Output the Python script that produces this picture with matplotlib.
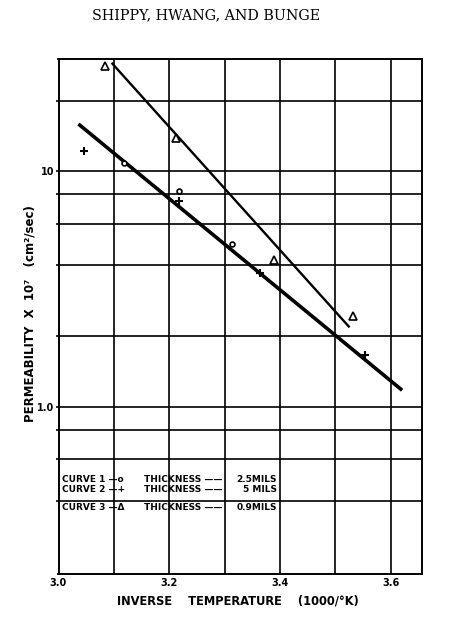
import matplotlib.pyplot as plt

# data (inverse temperature 1000/K, permeability x 1e7)
c1_x = [3.118, 3.217, 3.314]
c1_y = [10.9, 8.3, 4.9]
c2_x = [3.046, 3.217, 3.365, 3.553]
c2_y = [12.2, 7.5, 3.7, 1.66]
c3_x = [3.084, 3.213, 3.390, 3.532]
c3_y = [28.0, 13.9, 4.23, 2.43]

# fitted lines (end points)
fit12_x = [3.036, 3.621]
fit12_y = [15.9, 1.18]
fit3_x = [3.096, 3.526]
fit3_y = [28.9, 2.18]

x_grid = [3.0, 3.1, 3.2, 3.3, 3.4, 3.5, 3.6]
x_labels = ['3.0', '', '3.2', '', '3.4', '', '3.6']
y_grid = [0.4, 0.6, 0.8, 1.0, 2, 4, 6, 8, 10, 20]
y_labels = ['', '', '', '1.0', '', '', '', '', '10', '']

legend_left = ['CURVE 1 \u2014o', 'CURVE 2 \u2014+', 'CURVE 3 \u2014\u0394']
legend_mid = ['THICKNESS \u2014\u2014', 'THICKNESS \u2014\u2014', 'THICKNESS \u2014\u2014']
legend_right = ['2.5MILS', '5 MILS', '0.9MILS']

W, H = 474, 620
fig = plt.figure(figsize=(W / 100, H / 100), dpi=100)
ax = fig.add_axes([58.5 / W, 1 - 574 / H, 363 / W, 515 / H])

ax.set_yscale('log')
ax.set_xlim(3.0, 3.656)
ax.set_ylim(0.196, 30)

# grid
ax.set_xticks(x_grid, labels=x_labels)
ax.set_yticks(y_grid, labels=y_labels)
ax.minorticks_off()
ax.grid(True, color='black', linewidth=1.2)
ax.tick_params(axis='x', length=0, pad=3, labelsize=7)
ax.tick_params(axis='y', length=2, width=1.2, pad=1, labelsize=7)
for lab in ax.get_xticklabels() + ax.get_yticklabels():
    lab.set_fontweight('bold')
for s in ax.spines.values():
    s.set_linewidth(1.4)

# fitted lines
ax.plot(fit12_x, fit12_y, color='black', linewidth=2.6, solid_capstyle='butt', zorder=3)
ax.plot(fit3_x, fit3_y, color='black', linewidth=1.7, solid_capstyle='butt', zorder=3)

# points
ax.plot(c1_x, c1_y, 'o', markersize=3.5, markerfacecolor='white',
        markeredgecolor='black', markeredgewidth=1.2, zorder=4)
ax.plot(c2_x, c2_y, '+', markersize=5.5, color='black', markeredgewidth=1.5, zorder=4)
ax.plot(c3_x, c3_y, '^', markersize=5.5, markerfacecolor='white',
        markeredgecolor='black', markeredgewidth=1.2, zorder=4)

# legend written as text inside the plot
rows_y = [480, 490, 507.5]
for i in range(3):
    fy = 1 - rows_y[i] / H
    fig.text(62 / W, fy, legend_left[i], fontsize=6.5, fontweight='bold', va='center')
    fig.text(144 / W, fy, legend_mid[i], fontsize=6.5, fontweight='bold', va='center')
    fig.text(277 / W, fy, legend_right[i], fontsize=6.5, fontweight='bold', va='center', ha='right')

fig.text(206 / W, 1 - 15 / H, 'SHIPPY, HWANG, AND BUNGE', family='DejaVu Serif',
         fontsize=10.3, ha='center', va='center')
fig.text(238 / W, 1 - 601 / H, 'INVERSE    TEMPERATURE    (1000/\u00b0K)',
         fontsize=8.3, fontweight='bold', ha='center', va='center')
fig.text(30 / W, 1 - 314 / H, 'PERMEABILITY  X  10\u2077   (cm\u00b2/sec)',
         fontsize=8.5, fontweight='bold', ha='center', va='center', rotation=90)

fig.savefig('out.png', dpi=100, facecolor='white')
